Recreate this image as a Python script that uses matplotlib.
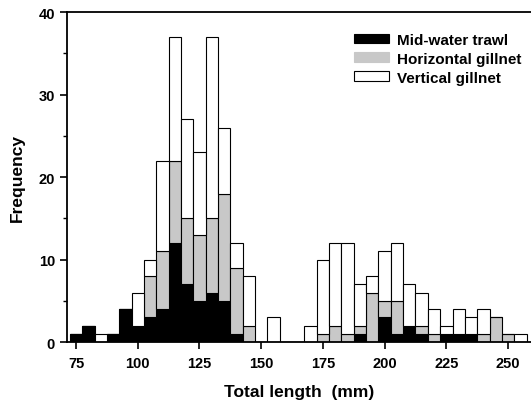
import matplotlib.pyplot as plt
import numpy as np
from matplotlib.patches import Patch

plt.rcParams['font.family'] = ['Liberation Sans', 'DejaVu Sans']
plt.rcParams['font.weight'] = 'bold'

# Length classes (mm, bin centres, 5 mm wide)
lengths = list(range(75, 260, 5))

# Counts per gear, one value per length class
midwater = [1, 2, 0, 1, 4, 2, 3, 4, 12, 7, 5, 6, 5, 1, 0, 0, 0, 0, 0,
            0, 0, 0, 0, 1, 0, 3, 1, 2, 1, 0, 1, 1, 1, 0, 0, 0, 0]
horizontal = [0, 0, 0, 0, 0, 0, 5, 7, 10, 8, 8, 9, 13, 8, 2, 0, 0, 0, 0,
              0, 1, 2, 1, 1, 6, 2, 4, 0, 1, 1, 0, 0, 0, 1, 3, 1, 0]
vertical = [0, 0, 1, 0, 0, 4, 2, 11, 15, 12, 10, 22, 8, 3, 6, 0, 3, 0, 0,
            2, 9, 10, 11, 5, 2, 6, 7, 5, 4, 3, 1, 3, 2, 3, 0, 0, 1]

x = np.array(lengths)
mw = np.array(midwater)
hz = np.array(horizontal)
vt = np.array(vertical)

fig = plt.figure(figsize=(5.31, 4.10), dpi=100)
ax = fig.add_axes([0.1256, 0.1634, 0.8744, 0.8046])

w = 5
ax.bar(x, mw, width=w, color='black', edgecolor='black', linewidth=0.8)
ax.bar(x, hz, width=w, bottom=mw, color='#c8c8c8', edgecolor='black', linewidth=0.8)
ax.bar(x, vt, width=w, bottom=mw + hz, color='white', edgecolor='black', linewidth=0.8)

ax.set_xlim(71.2, 259.3)
ax.set_ylim(0, 40)
ax.set_xticks([75, 100, 125, 150, 175, 200, 225, 250])
ax.set_yticks([0, 10, 20, 30, 40])
ax.set_yticks([5, 15, 25, 35], minor=True)
ax.tick_params(axis='both', which='major', direction='out', length=5, width=1.2,
               labelsize=10.5)
ax.tick_params(axis='y', which='minor', direction='out', length=3, width=1)
ax.tick_params(axis='x', pad=5)
for lab in ax.get_xticklabels() + ax.get_yticklabels():
    lab.set_fontweight('bold')

ax.spines['right'].set_visible(False)
for s in ['left', 'top', 'bottom']:
    ax.spines[s].set_linewidth(1.3)

ax.set_xlabel('Total length  (mm)', fontsize=12.5, fontweight='bold', labelpad=10)
ax.set_ylabel('Frequency', fontsize=12.5, fontweight='bold', labelpad=10)

handles = [Patch(facecolor='black', edgecolor='black', linewidth=0.8),
           Patch(facecolor='#c8c8c8', edgecolor='#c8c8c8', linewidth=0.8),
           Patch(facecolor='white', edgecolor='black', linewidth=0.8)]
ax.legend(handles, ['Mid-water trawl', 'Horizontal gillnet', 'Vertical gillnet'],
          loc='upper right', bbox_to_anchor=(1.0, 0.965), frameon=False,
          handlelength=2.3, handleheight=0.6, handletextpad=0.55,
          labelspacing=0.32, borderaxespad=0.2,
          prop={'weight': 'bold', 'size': 11})

fig.savefig('out.png', dpi=100)
